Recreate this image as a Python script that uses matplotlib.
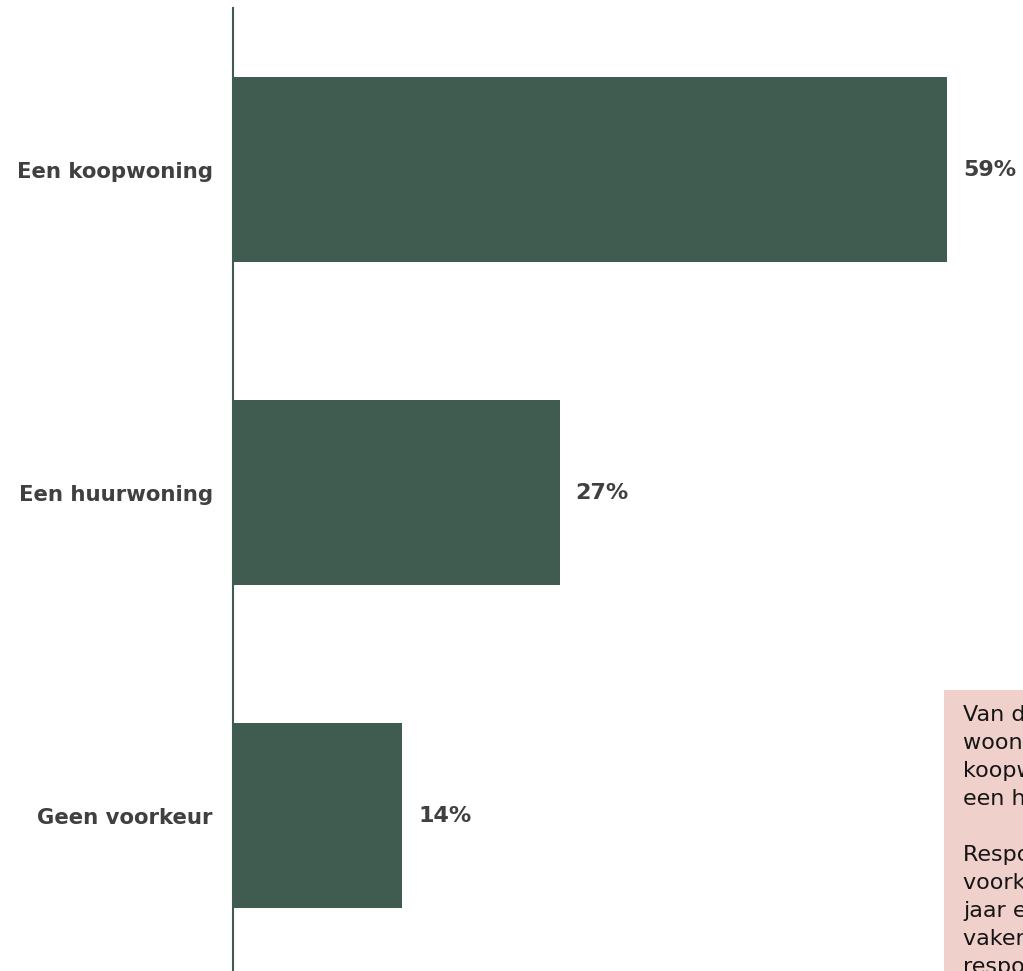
import matplotlib
matplotlib.use("Agg")
import matplotlib.pyplot as plt
from matplotlib.patches import Rectangle

categories = ["Een koopwoning", "Een huurwoning", "Geen voorkeur"]
values = [59, 27, 14]
value_labels = ["59%", "27%", "14%"]
note_lines = [
    "Van de respondenten met een",
    "woonwens heeft 59% voorkeur voor een",
    "koopwoning en 27% voorkeur voor",
    "een huurwoning.",
    "",
    "Respondenten met een",
    "voorkeur voor huur zijn jonger dan 35",
    "jaar en hebben",
    "vaker een lager inkomen dan",
    "respondenten met voorkeur voor koop.",
]

W, H = 1023, 971
fig = plt.figure(figsize=(W / 100, H / 100), dpi=100)
bar_color = "#405c50"
text_color = "#404040"

ax = fig.add_axes([233 / W, (H - 977) / H, (W - 233) / W, 969 / H])
ypos = list(range(len(categories)))
ax.barh(ypos, values, height=0.57, color=bar_color)
ax.set_ylim(2.5, -0.5)
ax.set_xlim(0, (W - 233) / 12.1)
ax.set_yticks(ypos)
ax.set_yticklabels(categories, fontsize=15.3, fontweight="bold", color=text_color,
                   family="DejaVu Sans")
ax.tick_params(axis="y", length=0, pad=14.5)
ax.set_xticks([])
for s in ["top", "right", "bottom"]:
    ax.spines[s].set_visible(False)
ax.spines["left"].set_color(bar_color)
ax.spines["left"].set_linewidth(1.5)

for y, v, lab in zip(ypos, values, value_labels):
    ax.annotate(lab, (v, y), xytext=(16, 0), textcoords="offset pixels",
                va="center", ha="left", fontsize=16, fontweight="bold",
                color=text_color)

fig.patches.append(Rectangle((944 / W, 0), 1, (H - 690) / H, transform=fig.transFigure,
                             facecolor="#efd0cb", edgecolor="none", zorder=0))
fig.text(963 / W, 1 - 705 / H, "\n".join(note_lines), ha="left", va="top",
         fontsize=16, color="#151515", linespacing=1.5)

fig.savefig("out.png", dpi=100, facecolor="white")
